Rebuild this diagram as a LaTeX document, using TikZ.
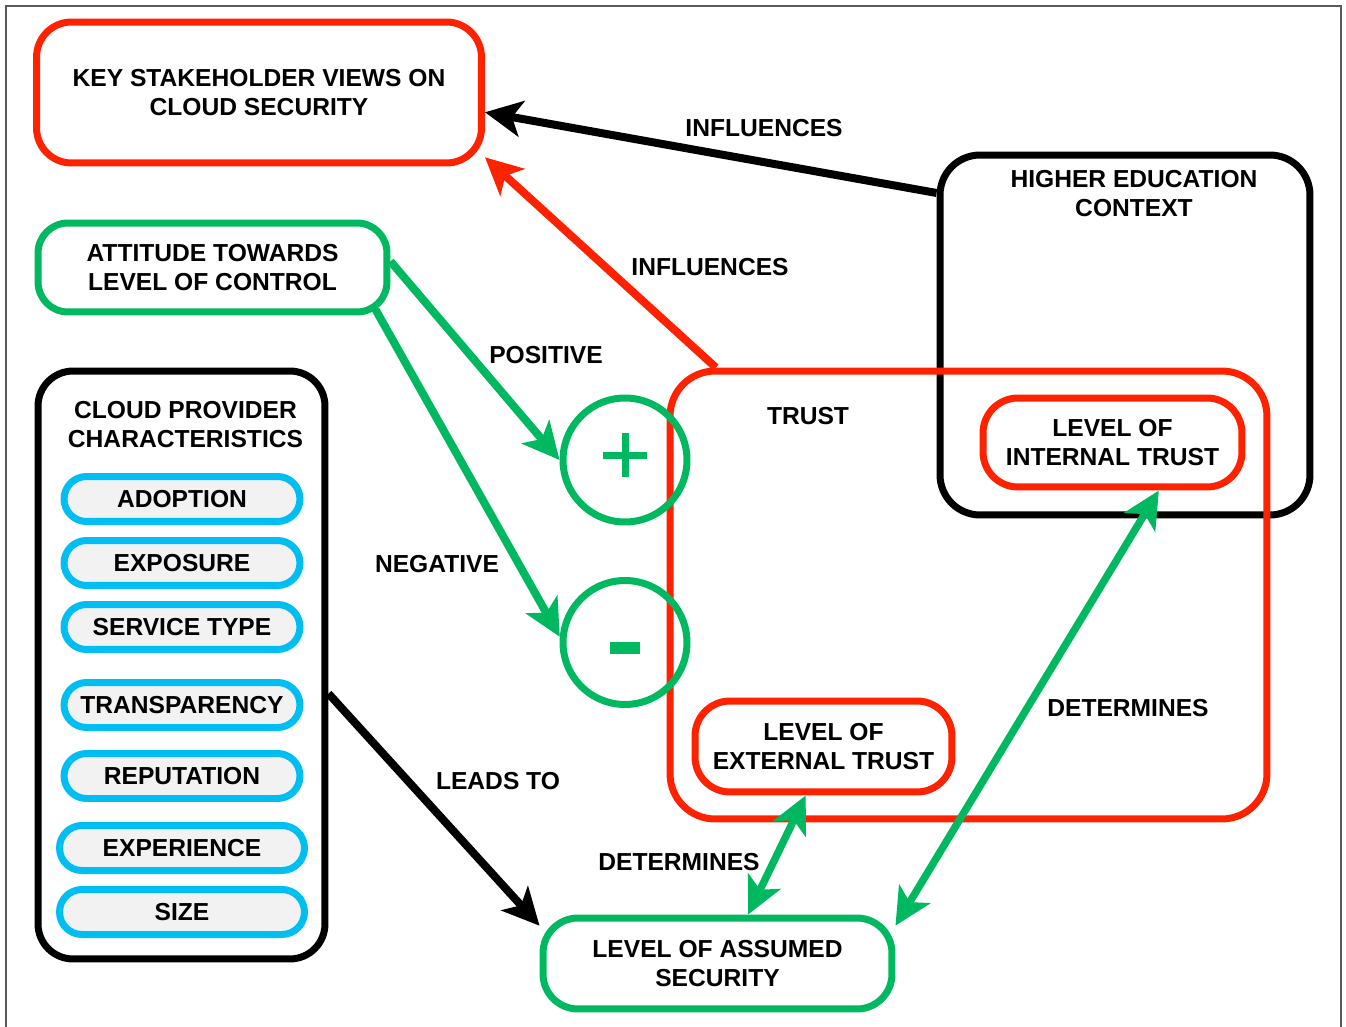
\documentclass[tikz,border=0pt]{standalone}
\usepackage{fontspec}
\setmainfont{Liberation Sans}
\usetikzlibrary{arrows.meta,positioning}

\definecolor{tred}{HTML}{FF2200}
\definecolor{tgreen}{HTML}{00B85F}
\definecolor{tblue}{HTML}{00BEF2}

\tikzset{
    box/.style={draw, rectangle, line width=0.14cm, align=center,
        font=\fontsize{14}{16.4}\bfseries},
    redbox/.style={box, draw=tred},
    greenbox/.style={box, draw=tgreen},
    blackbox/.style={box, draw=black},
    pill/.style={box, draw=tblue, fill=black!5, minimum width=4.72cm,
        minimum height=0.9cm, rounded corners=0.45cm},
    lbl/.style={font=\fontsize{14}{16.4}\bfseries, align=center},
    sign/.style={draw=tgreen, circle, line width=0.14cm, minimum size=2.48cm},
    arr/.style={line width=0.16cm,
        -{Stealth[length=0.74cm,width=0.72cm,inset=0.19cm]}},
    darr/.style={line width=0.15cm,
        {Stealth[length=0.74cm,width=0.72cm,inset=0.19cm]}-{Stealth[length=0.74cm,width=0.72cm,inset=0.19cm]}},
}

\begin{document}
\begin{tikzpicture}[x=0.02cm,y=-0.02cm]
        \useasboundingbox (0,0) rectangle (1346,1027);
        % thin outer frame
        \draw [draw=black!65, line width=0.03cm] (6,1027) -- (6,6) -- (1341,6) -- (1341,1027);

        \node [redbox, minimum width=8.9cm, minimum height=2.82cm, rounded corners=0.7cm] (key) at (259,92.5)
            {KEY STAKEHOLDER VIEWS ON\\CLOUD SECURITY};
        \node [greenbox, minimum width=6.98cm, minimum height=1.78cm, rounded corners=0.6cm] (attitude) at (212.5,267.5)
            {ATTITUDE TOWARDS\\LEVEL OF CONTROL};

        \node [blackbox, minimum width=5.74cm, minimum height=11.76cm, rounded corners=0.7cm] (cloud) at (181.5,665) {};
        \node [lbl, below=0.56cm of cloud.north, xshift=0.08cm] (cloudtitle) {CLOUD PROVIDER\\CHARACTERISTICS};
        \foreach \y/\t/\w [count=\i] in {499/ADOPTION/4.72, 563/EXPOSURE/4.72, 627/SERVICE TYPE/4.72,
                705/TRANSPARENCY/4.72, 776/REPUTATION/4.72, 848/EXPERIENCE/4.9, 912/SIZE/4.9} {
            \node [pill, minimum width=\w cm] (pill\i) at (182,\y) {\t};
        }

        \node [blackbox, minimum width=7.4cm, minimum height=7.2cm, rounded corners=0.8cm] (he) at (1125,335) {};
        \node [lbl, below=0.26cm of he.north, xshift=0.18cm] (hetitle) {HIGHER EDUCATION\\CONTEXT};

        \node [redbox, minimum width=11.94cm, minimum height=8.96cm, rounded corners=0.9cm] (trust) at (968.5,595) {};
        \node [lbl] (trusttitle) at (808,416) {TRUST};
        \node [redbox, minimum width=5.18cm, minimum height=1.78cm, rounded corners=0.7cm] (internal) at (1112.5,442.5)
            {LEVEL OF\\INTERNAL TRUST};
        \node [redbox, fill=white, minimum width=5.14cm, minimum height=1.82cm, rounded corners=0.7cm] (external) at (823.5,746.5)
            {LEVEL OF\\EXTERNAL TRUST};
        \node [greenbox, minimum width=6.98cm, minimum height=1.82cm, rounded corners=0.7cm] (assumed) at (717.5,963.5)
            {LEVEL OF ASSUMED\\SECURITY};

        \node [sign] (plus) at (625,460) {};
        \node [sign] (minus) at (625,642.5) {};
        \draw [draw=tgreen, line width=0.14cm] (plus.center) ++(-22,-5) -- ++(44,0);
        \draw [draw=tgreen, line width=0.14cm] (plus.center) ++(0,-27) -- ++(0,44);
        \draw [draw=tgreen, line width=0.24cm] (minus.center) ++(-15,5) -- ++(30,0);

        \draw [arr, draw=black] (he.143) -- (key.-5);
        \draw [arr, draw=tred] (trust.138) -- (key.-16.5);
        \draw [arr, draw=tgreen] (attitude.2) -- (plus.west);
        \draw [arr, draw=tgreen] ([shift={(-15,-6)}]attitude.south east) -- (minus.175);
        \draw [arr, draw=black] (cloud.-11) -- (assumed.168);
        \draw [darr, draw=tgreen] (external.-110) -- (assumed.58);
        \draw [darr, draw=tgreen] (internal.-46) -- (assumed.12);

        \node [lbl] (l1) at (764,128) {INFLUENCES};
        \node [lbl] (l2) at (710,267) {INFLUENCES};
        \node [lbl] (l3) at (546,355) {POSITIVE};
        \node [lbl] (l4) at (437,564) {NEGATIVE};
        \node [lbl] (l5) at (498,781) {LEADS TO};
        \node [lbl] (l6) at (679,862) {DETERMINES};
        \node [lbl] (l7) at (1128,708) {DETERMINES};

\end{tikzpicture}
\end{document}
